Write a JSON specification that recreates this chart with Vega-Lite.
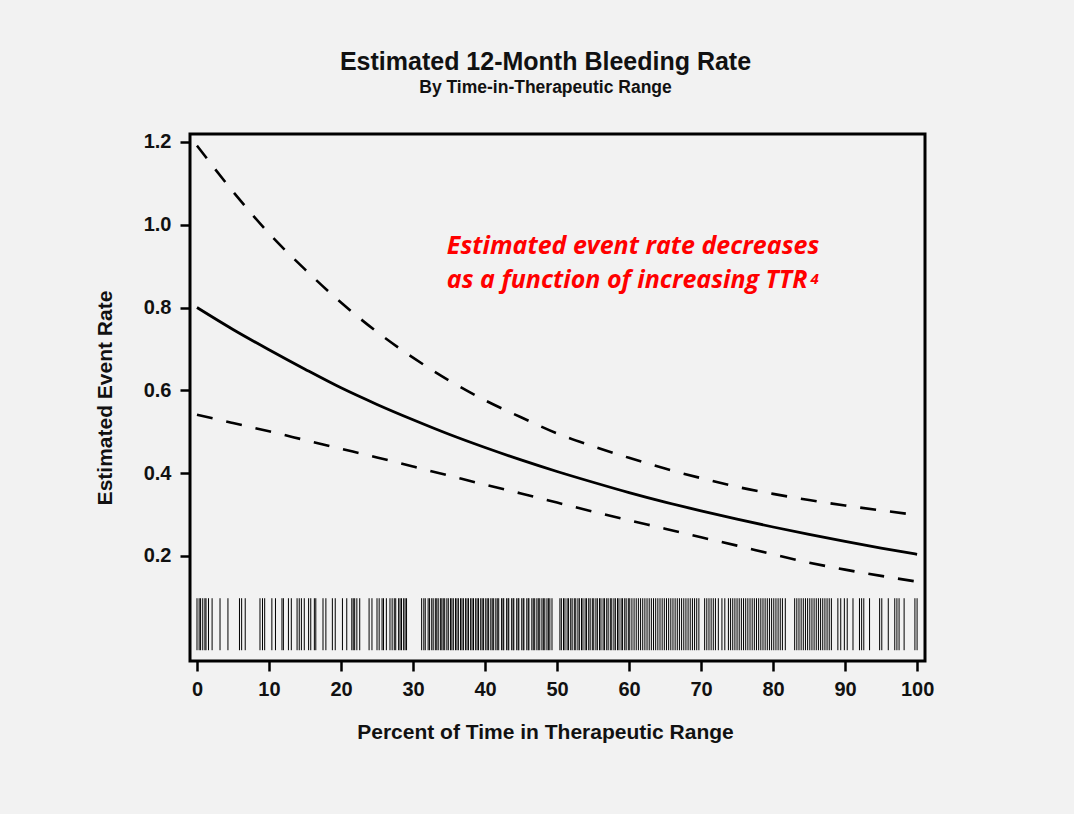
{
  "$schema": "https://vega.github.io/schema/vega-lite/v6.json",
  "width": 735,
  "height": 527,
  "autosize": {"type": "none"},
  "padding": {"left": 190, "top": 134, "right": 149, "bottom": 153},
  "background": "#f2f2f2",
  "title": {
    "text": "Estimated 12-Month Bleeding Rate",
    "subtitle": "By Time-in-Therapeutic Range",
    "anchor": "middle",
    "dx": -12,
    "font": "Liberation Sans",
    "fontSize": 25,
    "fontWeight": "bold",
    "color": "#111111",
    "subtitleFont": "Liberation Sans",
    "subtitleFontSize": 17.5,
    "subtitleFontWeight": "bold",
    "subtitleColor": "#111111",
    "subtitlePadding": 4,
    "offset": 35
  },
  "config": {
    "view": {"stroke": "#000000", "strokeWidth": 3, "fill": "#f2f2f2"},
    "font": "Liberation Sans"
  },
  "datasets": {
    "curves": [
      {"ttr": 0, "rate": 0.800, "band": "estimate"},
      {"ttr": 5, "rate": 0.747, "band": "estimate"},
      {"ttr": 10, "rate": 0.698, "band": "estimate"},
      {"ttr": 15, "rate": 0.651, "band": "estimate"},
      {"ttr": 20, "rate": 0.606, "band": "estimate"},
      {"ttr": 25, "rate": 0.566, "band": "estimate"},
      {"ttr": 30, "rate": 0.529, "band": "estimate"},
      {"ttr": 35, "rate": 0.494, "band": "estimate"},
      {"ttr": 40, "rate": 0.462, "band": "estimate"},
      {"ttr": 45, "rate": 0.432, "band": "estimate"},
      {"ttr": 50, "rate": 0.404, "band": "estimate"},
      {"ttr": 55, "rate": 0.378, "band": "estimate"},
      {"ttr": 60, "rate": 0.353, "band": "estimate"},
      {"ttr": 65, "rate": 0.330, "band": "estimate"},
      {"ttr": 70, "rate": 0.309, "band": "estimate"},
      {"ttr": 75, "rate": 0.289, "band": "estimate"},
      {"ttr": 80, "rate": 0.270, "band": "estimate"},
      {"ttr": 85, "rate": 0.252, "band": "estimate"},
      {"ttr": 90, "rate": 0.235, "band": "estimate"},
      {"ttr": 95, "rate": 0.219, "band": "estimate"},
      {"ttr": 100, "rate": 0.204, "band": "estimate"},
      {"ttr": 0, "rate": 1.191, "band": "upper"},
      {"ttr": 5, "rate": 1.080, "band": "upper"},
      {"ttr": 10, "rate": 0.979, "band": "upper"},
      {"ttr": 15, "rate": 0.892, "band": "upper"},
      {"ttr": 20, "rate": 0.812, "band": "upper"},
      {"ttr": 25, "rate": 0.741, "band": "upper"},
      {"ttr": 30, "rate": 0.679, "band": "upper"},
      {"ttr": 35, "rate": 0.624, "band": "upper"},
      {"ttr": 40, "rate": 0.576, "band": "upper"},
      {"ttr": 45, "rate": 0.535, "band": "upper"},
      {"ttr": 50, "rate": 0.496, "band": "upper"},
      {"ttr": 55, "rate": 0.465, "band": "upper"},
      {"ttr": 60, "rate": 0.437, "band": "upper"},
      {"ttr": 65, "rate": 0.411, "band": "upper"},
      {"ttr": 70, "rate": 0.388, "band": "upper"},
      {"ttr": 75, "rate": 0.367, "band": "upper"},
      {"ttr": 80, "rate": 0.350, "band": "upper"},
      {"ttr": 85, "rate": 0.335, "band": "upper"},
      {"ttr": 90, "rate": 0.322, "band": "upper"},
      {"ttr": 95, "rate": 0.310, "band": "upper"},
      {"ttr": 100, "rate": 0.299, "band": "upper"},
      {"ttr": 0, "rate": 0.541, "band": "lower"},
      {"ttr": 5, "rate": 0.521, "band": "lower"},
      {"ttr": 10, "rate": 0.501, "band": "lower"},
      {"ttr": 15, "rate": 0.480, "band": "lower"},
      {"ttr": 20, "rate": 0.459, "band": "lower"},
      {"ttr": 25, "rate": 0.438, "band": "lower"},
      {"ttr": 30, "rate": 0.416, "band": "lower"},
      {"ttr": 35, "rate": 0.394, "band": "lower"},
      {"ttr": 40, "rate": 0.372, "band": "lower"},
      {"ttr": 45, "rate": 0.351, "band": "lower"},
      {"ttr": 50, "rate": 0.329, "band": "lower"},
      {"ttr": 55, "rate": 0.307, "band": "lower"},
      {"ttr": 60, "rate": 0.286, "band": "lower"},
      {"ttr": 65, "rate": 0.266, "band": "lower"},
      {"ttr": 70, "rate": 0.245, "band": "lower"},
      {"ttr": 75, "rate": 0.225, "band": "lower"},
      {"ttr": 80, "rate": 0.204, "band": "lower"},
      {"ttr": 85, "rate": 0.184, "band": "lower"},
      {"ttr": 90, "rate": 0.167, "band": "lower"},
      {"ttr": 95, "rate": 0.152, "band": "lower"},
      {"ttr": 100, "rate": 0.138, "band": "lower"}
    ],
    "rug": [
      {"t": 0}, {"t": 0.3}, {"t": 0.5}, {"t": 0.8}, {"t": 1.1}, {"t": 1.25}, {"t": 1.6}, {"t": 2.1}, {"t": 3.2}, {"t": 4.3},
      {"t": 5.9}, {"t": 6.2}, {"t": 6.7}, {"t": 8.75}, {"t": 9.1}, {"t": 9.4}, {"t": 10.4}, {"t": 10.9}, {"t": 11.8}, {"t": 12.0},
      {"t": 12.7}, {"t": 13.1}, {"t": 13.9}, {"t": 14.2}, {"t": 14.5}, {"t": 14.9}, {"t": 15.5}, {"t": 15.8}, {"t": 16.3}, {"t": 16.5},
      {"t": 17.5}, {"t": 17.9}, {"t": 18.8}, {"t": 19.2}, {"t": 20.2}, {"t": 20.8}, {"t": 21.5}, {"t": 21.7}, {"t": 21.9}, {"t": 22.2},
      {"t": 22.6}, {"t": 23.9}, {"t": 24.3}, {"t": 25.0}, {"t": 25.3}, {"t": 25.7}, {"t": 25.9}, {"t": 26.3}, {"t": 26.8}, {"t": 27.1},
      {"t": 27.4}, {"t": 27.6}, {"t": 28.0}, {"t": 28.2}, {"t": 28.4}, {"t": 28.7}, {"t": 28.9}, {"t": 29.1},
      {"t": 31.2}, {"t": 31.5}, {"t": 31.7}, {"t": 32.1}, {"t": 32.3}, {"t": 32.6}, {"t": 32.8}, {"t": 33.1}, {"t": 33.3}, {"t": 33.5},
      {"t": 33.8}, {"t": 34.0}, {"t": 34.2}, {"t": 34.4}, {"t": 34.7}, {"t": 34.9}, {"t": 35.2}, {"t": 35.4}, {"t": 35.6}, {"t": 35.9},
      {"t": 36.1}, {"t": 36.3}, {"t": 36.6}, {"t": 36.8}, {"t": 37.0}, {"t": 37.3}, {"t": 37.5}, {"t": 37.7}, {"t": 38.0}, {"t": 38.2},
      {"t": 38.4}, {"t": 38.7}, {"t": 38.9}, {"t": 39.1}, {"t": 39.4}, {"t": 39.6}, {"t": 39.8}, {"t": 40.1}, {"t": 40.3}, {"t": 40.5},
      {"t": 40.8}, {"t": 41.0}, {"t": 41.2}, {"t": 41.5}, {"t": 41.7}, {"t": 41.9}, {"t": 42.3}, {"t": 42.5}, {"t": 42.6}, {"t": 43.0},
      {"t": 43.2}, {"t": 43.3}, {"t": 43.7}, {"t": 43.9}, {"t": 44.0}, {"t": 44.4}, {"t": 44.6}, {"t": 44.7}, {"t": 45.1}, {"t": 45.3},
      {"t": 45.4}, {"t": 45.8}, {"t": 46.0}, {"t": 46.1}, {"t": 46.5}, {"t": 46.7}, {"t": 46.9}, {"t": 47.2}, {"t": 47.4}, {"t": 47.6},
      {"t": 47.9}, {"t": 48.1}, {"t": 48.3}, {"t": 48.6}, {"t": 48.8}, {"t": 49.0}, {"t": 49.3},
      {"t": 50.4}, {"t": 50.6}, {"t": 50.9}, {"t": 51.1}, {"t": 51.4}, {"t": 51.6}, {"t": 51.9}, {"t": 52.1},
      {"t": 52.4}, {"t": 52.6}, {"t": 52.9}, {"t": 53.1}, {"t": 53.4}, {"t": 53.6}, {"t": 53.9}, {"t": 54.1}, {"t": 54.4}, {"t": 54.6},
      {"t": 54.9}, {"t": 55.1}, {"t": 55.4}, {"t": 55.6}, {"t": 55.9}, {"t": 56.1}, {"t": 56.4}, {"t": 56.6}, {"t": 56.9}, {"t": 57.1},
      {"t": 57.4}, {"t": 57.6}, {"t": 57.9}, {"t": 58.1}, {"t": 58.4}, {"t": 58.6}, {"t": 58.9}, {"t": 59.1}, {"t": 59.4}, {"t": 59.6},
      {"t": 59.9}, {"t": 60.1}, {"t": 60.4}, {"t": 60.7}, {"t": 61.0}, {"t": 61.3}, {"t": 61.6}, {"t": 61.9}, {"t": 62.2}, {"t": 62.5},
      {"t": 62.8}, {"t": 63.1}, {"t": 63.4}, {"t": 63.7}, {"t": 64.0}, {"t": 64.3}, {"t": 64.6}, {"t": 64.9}, {"t": 65.2}, {"t": 65.5},
      {"t": 65.8}, {"t": 66.1}, {"t": 66.4}, {"t": 66.7}, {"t": 67.0}, {"t": 67.3}, {"t": 67.6}, {"t": 67.9}, {"t": 68.2}, {"t": 68.5},
      {"t": 68.8}, {"t": 69.1}, {"t": 69.4}, {"t": 69.7}, {"t": 70.5}, {"t": 70.8}, {"t": 71.1}, {"t": 71.4}, {"t": 71.7}, {"t": 72.0},
      {"t": 72.4}, {"t": 72.9}, {"t": 73.3}, {"t": 73.8}, {"t": 74.1}, {"t": 74.4}, {"t": 74.7}, {"t": 75.0}, {"t": 75.3}, {"t": 75.6},
      {"t": 75.9}, {"t": 76.2}, {"t": 76.5}, {"t": 76.8}, {"t": 77.1}, {"t": 77.4}, {"t": 77.7}, {"t": 78.0}, {"t": 78.3}, {"t": 78.6},
      {"t": 78.9}, {"t": 79.2}, {"t": 79.5}, {"t": 79.8}, {"t": 80.1}, {"t": 80.4}, {"t": 80.7}, {"t": 81.0}, {"t": 81.3}, {"t": 81.7},
      {"t": 83.0}, {"t": 83.3}, {"t": 83.6}, {"t": 83.9}, {"t": 84.2}, {"t": 84.5}, {"t": 84.8}, {"t": 85.1}, {"t": 85.4}, {"t": 85.7},
      {"t": 86.0}, {"t": 86.3}, {"t": 86.6}, {"t": 86.9}, {"t": 87.2}, {"t": 87.5}, {"t": 87.8}, {"t": 88.1},
      {"t": 89.0}, {"t": 89.4}, {"t": 89.9}, {"t": 90.3}, {"t": 91.1}, {"t": 92.0}, {"t": 92.3}, {"t": 92.6}, {"t": 93.4}, {"t": 94.8},
      {"t": 95.1}, {"t": 96.0}, {"t": 96.9}, {"t": 97.2}, {"t": 97.5}, {"t": 98.2}, {"t": 99.7}, {"t": 100}
    ],
    "note": [
      {"line1": "Estimated event rate decreases", "line2": "as a function of increasing TTR", "sup": "4"}
    ]
  },
  "encoding": {
    "x": {
      "type": "quantitative",
      "scale": {"domain": [-0.97, 101.1], "nice": false, "zero": false},
      "axis": {
        "values": [0, 10, 20, 30, 40, 50, 60, 70, 80, 90, 100],
        "title": "Percent of Time in Therapeutic Range",
        "titleX": 355,
        "titleFontSize": 21,
        "titleFontWeight": "bold",
        "titleColor": "#111111",
        "titlePadding": 22,
        "labelFontSize": 20,
        "labelFontWeight": "bold",
        "labelColor": "#111111",
        "labelPadding": 8,
        "tickSize": 10,
        "tickWidth": 2.5,
        "tickColor": "#000000",
        "domain": false,
        "grid": false
      }
    },
    "y": {
      "type": "quantitative",
      "scale": {"domain": [-0.0536, 1.219], "nice": false, "zero": false},
      "axis": {
        "values": [0.2, 0.4, 0.6, 0.8, 1.0, 1.2],
        "format": ".1f",
        "title": "Estimated Event Rate",
        "titleFontSize": 21,
        "titleFontWeight": "bold",
        "titleColor": "#111111",
        "titlePadding": 28,
        "labelFontSize": 20,
        "labelFontWeight": "bold",
        "labelColor": "#111111",
        "labelPadding": 9,
        "tickSize": 10,
        "tickWidth": 2.5,
        "tickColor": "#000000",
        "domain": false,
        "grid": false
      }
    }
  },
  "layer": [
    {
      "data": {"name": "rug"},
      "mark": {"type": "rule", "color": "#000000", "strokeWidth": 1},
      "encoding": {
        "x": {"field": "t", "type": "quantitative"},
        "y": {"datum": 0.098},
        "y2": {"datum": -0.0276}
      }
    },
    {
      "data": {"name": "curves"},
      "transform": [{"filter": "datum.band === 'estimate'"}],
      "mark": {"type": "line", "color": "#000000", "strokeWidth": 2.8, "interpolate": "monotone"},
      "encoding": {
        "x": {"field": "ttr", "type": "quantitative"},
        "y": {"field": "rate", "type": "quantitative"}
      }
    },
    {
      "data": {"name": "curves"},
      "transform": [{"filter": "datum.band !== 'estimate'"}],
      "mark": {"type": "line", "color": "#000000", "strokeWidth": 2.6, "strokeDash": [16, 14], "interpolate": "monotone"},
      "encoding": {
        "x": {"field": "ttr", "type": "quantitative"},
        "y": {"field": "rate", "type": "quantitative"},
        "detail": {"field": "band"}
      }
    },
    {
      "data": {"name": "note"},
      "mark": {"type": "text", "font": "Open Sans", "fontSize": 25, "fontStyle": "italic", "fontWeight": "bold", "color": "#ff0000", "align": "left", "baseline": "alphabetic"},
      "encoding": {
        "x": {"datum": 34.7},
        "y": {"datum": 0.929},
        "text": {"field": "line1"}
      }
    },
    {
      "data": {"name": "note"},
      "mark": {"type": "text", "font": "Open Sans", "fontSize": 25, "fontStyle": "italic", "fontWeight": "bold", "color": "#ff0000", "align": "left", "baseline": "alphabetic"},
      "encoding": {
        "x": {"datum": 34.7},
        "y": {"datum": 0.847},
        "text": {"field": "line2"}
      }
    },
    {
      "data": {"name": "note"},
      "mark": {"type": "text", "font": "Open Sans", "fontSize": 15, "fontStyle": "italic", "fontWeight": "bold", "color": "#ff0000", "align": "left", "baseline": "alphabetic"},
      "encoding": {
        "x": {"datum": 85.2},
        "y": {"datum": 0.857},
        "text": {"field": "sup"}
      }
    }
  ]
}
